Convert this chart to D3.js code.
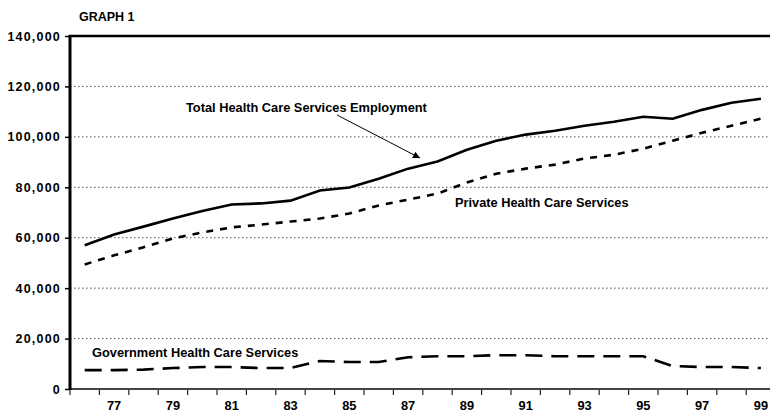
<!DOCTYPE html>
<html>
<head>
<meta charset="utf-8">
<script src="https://cdn.jsdelivr.net/npm/d3@7"></script>
<style>
  body { margin: 0; background: #fff; }
  text { font-family: "Liberation Sans", Arial, sans-serif; font-weight: bold; fill: #000; }
</style>
</head>
<body>
<script>
// Data (employment, 1976-1999)
const years = ["76","77","78","79","80","81","82","83","84","85","86","87","88","89","90","91","92","93","94","95","96","97","98","99"];
const totalEmployment = [57000, 61300, 64400, 67600, 70600, 73200, 73600, 74700, 78700, 79900, 83400, 87400, 90200, 94900, 98500, 100900, 102400, 104400, 106000, 108000, 107200, 110700, 113500, 115100];
const privateServices = [49400, 53000, 56200, 59700, 62100, 64100, 65200, 66400, 67600, 69600, 72800, 75100, 77500, 81900, 85400, 87400, 89000, 91400, 92900, 95300, 98500, 101600, 104400, 107200];
const governmentServices = [7500, 7500, 7700, 8300, 8700, 8700, 8300, 8300, 11100, 10700, 10700, 12600, 13000, 13000, 13400, 13400, 13000, 13000, 13000, 13000, 9100, 8700, 8700, 8300];
const yTicks = [0, 20000, 40000, 60000, 80000, 100000, 120000, 140000];
const xLabels = ["77","79","81","83","85","87","89","91","93","95","97","99"];

const width = 770;
const height = 415;
const plotLeft = 70, plotTop = 36, plotBottom = 389;

const svg = d3.select("body").append("svg")
    .attr("width", width)
    .attr("height", height)

// plot runs a little past the right edge, like the original
const xScale = d3.scaleBand()
    .domain(years)
    .range([plotLeft, plotLeft + 24 * 29.4])

const yScale = d3.scaleLinear()
    .domain([0, 140000])
    .range([plotBottom, plotTop])

// title
svg.append("text")
    .attr("x", 79).attr("y", 21)
    .style("font-size", "12.5px")
    .text("GRAPH 1")

// dotted gridlines
svg.append("g")
    .selectAll("line")
    .data(yTicks.filter(d => d > 0 && d < 140000))
    .join("line")
    .attr("x1", plotLeft).attr("x2", width)
    .attr("y1", d => yScale(d)).attr("y2", d => yScale(d))
    .attr("stroke", "#555")
    .attr("stroke-width", 1)
    .attr("stroke-dasharray", "1.5,2.5")

// y axis
const yAxis = svg.append("g")
    .attr("transform", `translate(${plotLeft}, 0)`)
    .call(d3.axisLeft(yScale).tickValues(yTicks).tickSize(5).tickPadding(4).tickFormat(d3.format(",")))
yAxis.select(".domain").remove()
yAxis.selectAll(".tick line").attr("stroke", "#000").attr("stroke-width", 1.5)
yAxis.selectAll(".tick text")
    .style("font-size", "12.5px")
    .style("font-family", "'Liberation Sans', Arial, sans-serif")
    .style("font-weight", "bold")
    .style("letter-spacing", "1.2px")

// x axis: ticks at category boundaries, labels on odd years
const xAxis = svg.append("g")
    .attr("transform", `translate(0, ${plotBottom})`)
xAxis.selectAll("line")
    .data(years)
    .join("line")
    .attr("x1", d => xScale(d)).attr("x2", d => xScale(d))
    .attr("y1", 0).attr("y2", 6)
    .attr("stroke", "#222").attr("stroke-width", 1.2)
xAxis.selectAll("text")
    .data(xLabels)
    .join("text")
    .attr("x", d => xScale(d) + xScale.bandwidth() / 2)
    .attr("y", 21)
    .attr("text-anchor", "middle")
    .style("font-size", "12.8px")
    .text(d => d)

// frame lines
svg.append("line")
    .attr("x1", plotLeft).attr("x2", width)
    .attr("y1", plotBottom).attr("y2", plotBottom)
    .attr("stroke", "#444").attr("stroke-width", 2)
svg.append("line")
    .attr("x1", plotLeft - 1).attr("x2", width)
    .attr("y1", plotTop).attr("y2", plotTop)
    .attr("stroke", "#000").attr("stroke-width", 2.5)
svg.append("line")
    .attr("x1", plotLeft).attr("x2", plotLeft)
    .attr("y1", plotTop - 1).attr("y2", plotBottom + 1)
    .attr("stroke", "#000").attr("stroke-width", 3)

// series lines
const line = d3.line()
    .x((d, i) => xScale(years[i]) + xScale.bandwidth() / 2)
    .y(d => yScale(d))

const series = [
    { values: totalEmployment, dash: null },
    { values: privateServices, dash: "7,7" },
    { values: governmentServices, dash: "17,9" }
]
svg.selectAll(".series")
    .data(series)
    .join("path")
    .attr("class", "series")
    .attr("fill", "none")
    .attr("stroke", "#000")
    .attr("stroke-width", 2.6)
    .attr("stroke-dasharray", d => d.dash)
    .attr("d", d => line(d.values))

// annotations
svg.append("text").attr("x", 186).attr("y", 112).style("font-size", "12.8px")
    .text("Total Health Care Services Employment")
svg.append("text").attr("x", 455).attr("y", 207).style("font-size", "12.8px")
    .text("Private Health Care Services")
svg.append("text").attr("x", 92).attr("y", 357).style("font-size", "12.8px")
    .text("Government Health Care Services")

// arrow to the total line
svg.append("defs").append("marker")
    .attr("id", "head")
    .attr("viewBox", "0 0 10 10")
    .attr("refX", 10).attr("refY", 5)
    .attr("markerWidth", 9).attr("markerHeight", 7)
    .attr("markerUnits", "userSpaceOnUse")
    .attr("orient", "auto")
    .append("path")
    .attr("d", "M0,0 L10,5 L0,10 Z")
    .attr("fill", "#000")
svg.append("line")
    .attr("x1", 337).attr("y1", 115)
    .attr("x2", 420).attr("y2", 158)
    .attr("stroke", "#000").attr("stroke-width", 1)
    .attr("marker-end", "url(#head)")
</script>
</body>
</html>
